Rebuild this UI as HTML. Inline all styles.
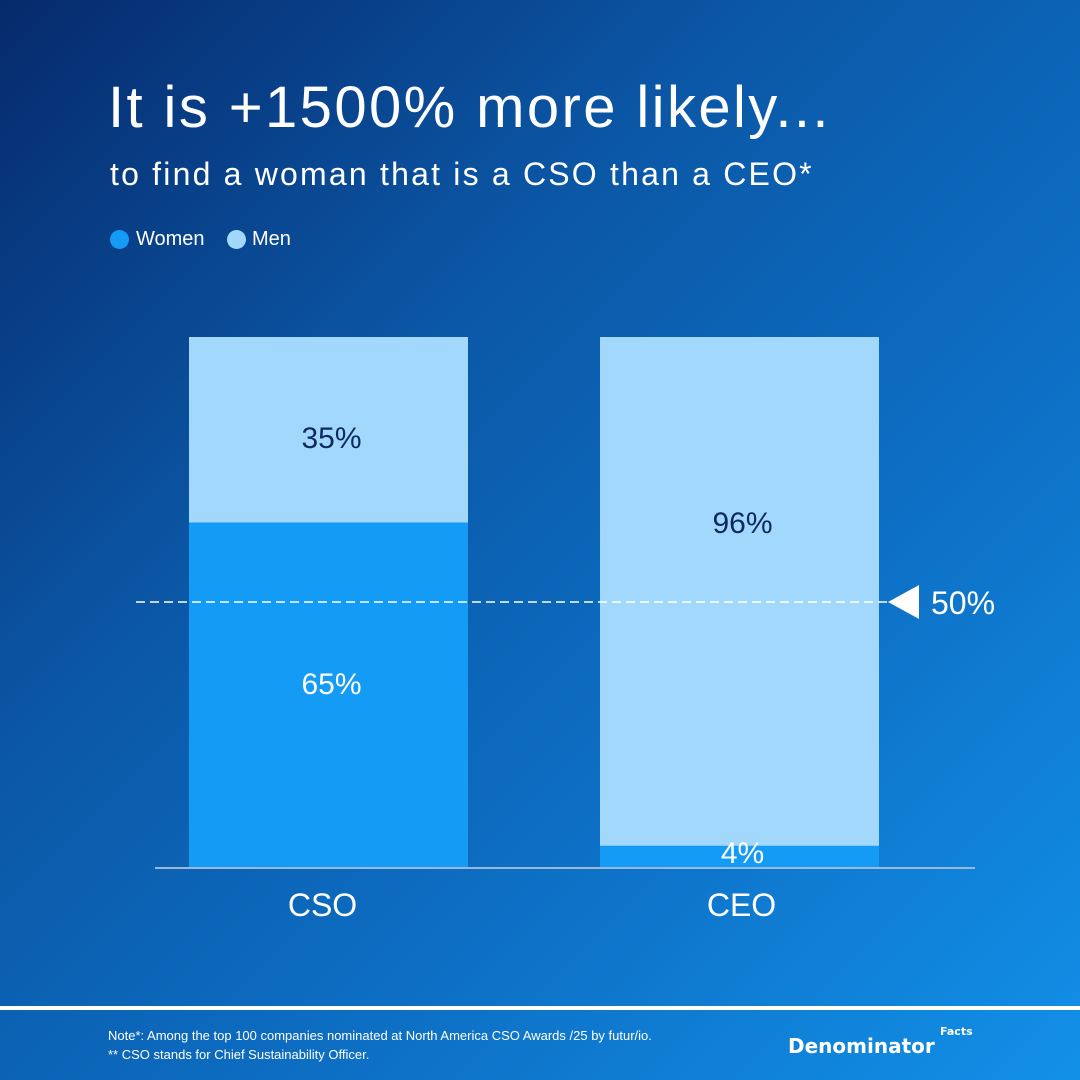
<!DOCTYPE html>
<html><head><meta charset="utf-8"><style>
body{margin:0;width:1080px;height:1080px;overflow:hidden;font-family:"Liberation Sans",sans-serif;}
#bg{position:absolute;left:0;top:0;width:1080px;height:1080px;background:linear-gradient(135deg,#062a6c 0%,#0b57a6 35%,#0d6fc4 65%,#1290e8 100%);}
.t{position:absolute;color:#fff;white-space:nowrap;}
</style></head><body>
<div id="bg"></div>
<div class="t" style="left:108px;top:74px;font-size:58px;letter-spacing:2.4px;">It is +1500% more likely...</div>
<div class="t" style="left:110px;top:156px;font-size:32px;letter-spacing:2.2px;">to find a woman that is a CSO than a CEO*</div>
<div>
<div style="position:absolute;left:110px;top:230px;width:19px;height:19px;border-radius:50%;background:#139bf5"></div>
<div class="t" style="left:136px;top:228px;font-size:20px;">Women</div>
<div style="position:absolute;left:227px;top:230px;width:19px;height:19px;border-radius:50%;background:#a2d8fc"></div>
<div class="t" style="left:252px;top:228px;font-size:20px;">Men</div>
</div>
<svg id="chart" width="1080" height="1080" style="position:absolute;left:0;top:0"></svg>
<div style="position:absolute;left:0;top:1006px;width:1080px;height:4px;background:#fff"></div>
<div class="t" style="left:108px;top:1028px;font-size:13px;">Note*: Among the top 100 companies nominated at North America CSO Awards /25 by futur/io.</div>
<div class="t" style="left:108px;top:1047px;font-size:13px;">** CSO stands for Chief Sustainability Officer.</div>
<div class="t" style="left:788px;top:1034px;font-size:20px;font-family:'DejaVu Sans',sans-serif;font-weight:bold;">Denominator</div>
<div class="t" style="left:940px;top:1025px;font-size:11px;font-family:'DejaVu Sans',sans-serif;font-weight:bold;">Facts</div>
<script>
const categories=["CSO","CEO"];
const women=[65,4];
const men=[35,96];
const refValue=50;
const ns="http://www.w3.org/2000/svg";
const svg=document.getElementById('chart');
const y0=867,h=530;
const y=v=>y0-v/100*h;
const barX=[189,600],bw=279;
function mk(t,a){const e=document.createElementNS(ns,t);for(const k in a)e.setAttribute(k,a[k]);svg.appendChild(e);return e;}
categories.forEach((c,i)=>{
 const x=barX[i];
 const w=mk('rect',{x:x,y:y(women[i]),width:bw,height:y0-y(women[i]),fill:'#139bf5'});
 
 
 const m=mk('rect',{x:x,y:y(women[i]+men[i]),width:bw,height:y(women[i])-y(women[i]+men[i]),fill:'#a2d8fc'});
 
 
 const wl=mk('text',{x:x+bw/2+3,y:women[i]<10?y0-4:(y(women[i])+y0)/2-1,'text-anchor':'middle','font-size':30,fill:'#fff','font-family':'Liberation Sans'});
 wl.textContent=women[i]+'%';
 
 
 const top=y(women[i]+men[i]);
 const ml=mk('text',{x:x+bw/2+3,y:men[i]>60?top+196:(y(women[i])+top)/2+18,'text-anchor':'middle','font-size':30,fill:'#0e2a62','font-family':'Liberation Sans'});
 ml.textContent=men[i]+'%';
 
 
 const cl=mk('text',{x:x+bw/2+(i?2:-6),y:916,'text-anchor':'middle','font-size':32,fill:'#fff','font-family':'Liberation Sans'});
 cl.textContent=c;
 
 
});
const ax=mk('line',{x1:155,x2:975,y1:868,y2:868,stroke:'#9ab8d8','stroke-width':2});


const ry=y(refValue);
const rl=mk('line',{x1:136,x2:890,y1:ry,y2:ry,stroke:'#fff','stroke-width':1.5,'stroke-dasharray':'9 5'});


const tri=mk('polygon',{points:`888,${ry} 919,${ry-17} 919,${ry+17}`,fill:'#fff'});


const rt=mk('text',{x:931,y:ry+12,'font-size':32,fill:'#fff','font-family':'Liberation Sans'});
rt.textContent=refValue+'%';


</script>
</body></html>
